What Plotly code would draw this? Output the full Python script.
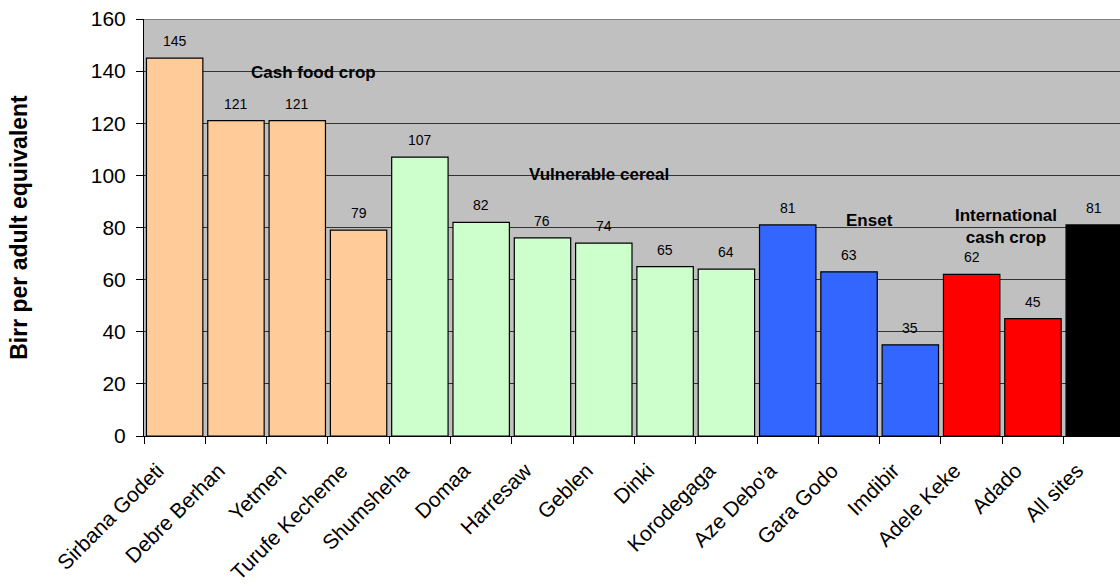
import plotly.graph_objects as go

# Sites, grouped by livelihood system, plus the all-site average
sites = ["Sirbana Godeti", "Debre Berhan", "Yetmen", "Turufe Kecheme",
         "Shumsheha", "Domaa", "Harresaw", "Geblen", "Dinki", "Korodegaga",
         "Aze Debo'a", "Gara Godo", "Imdibir",
         "Adele Keke", "Adado",
         "All sites"]
birr_per_adult = [145, 121, 121, 79,
                  107, 82, 76, 74, 65, 64,
                  81, 63, 35,
                  62, 45,
                  81]
group_of_site = ["cash_food"] * 4 + ["cereal"] * 6 + ["enset"] * 3 + ["intl_cash"] * 2 + ["all"]

group_colours = {
    "cash_food": "#FFCC99",
    "cereal": "#CCFFCC",
    "enset": "#3366FF",
    "intl_cash": "#FF0000",
    "all": "#000000",
}

# Group captions: (text, category position, value position)
group_labels = [
    ("Cash food crop", 2.26, 139.3),
    ("Vulnerable cereal", 6.92, 100.5),
    ("Enset", 11.33, 82.5),
    ("International<br>cash crop", 13.56, 80.2),
]

FONT = "Liberation Sans, Arial, sans-serif"

fig = go.Figure()
fig.add_trace(go.Bar(
    x=sites,
    y=birr_per_adult,
    marker=dict(color=[group_colours[g] for g in group_of_site],
                line=dict(color="#000000", width=1.2)),
    hoverinfo="skip",
))

# Value labels above each bar
for site, v in zip(sites, birr_per_adult):
    fig.add_annotation(x=site, y=v, text=str(v), showarrow=False,
                       yshift=17, font=dict(family=FONT, size=14, color="#000000"))

for text, xpos, ypos in group_labels:
    fig.add_annotation(x=xpos, y=ypos, text=f"<b>{text}</b>", showarrow=False,
                       font=dict(family=FONT, size=17, color="#000000"))

# Plot-area top border
fig.add_shape(type="line", xref="paper", yref="y", x0=0, x1=1, y0=160, y1=160,
              line=dict(color="#808080", width=2), layer="above")

fig.update_layout(
    width=1120, height=586,
    margin=dict(l=144, r=0, t=19, b=150),
    paper_bgcolor="#FFFFFF",
    plot_bgcolor="#C0C0C0",
    bargap=0.08,
    showlegend=False,
    font=dict(family=FONT, color="#000000"),
)
fig.update_xaxes(
    type="category",
    range=[-0.5, 15.42],
    tickangle=-45,
    tickfont=dict(size=21),
    tickson="boundaries",
    ticks="outside", ticklen=7, tickcolor="#000000",
    ticklabelshift=-17, ticklabelstandoff=13,
    showline=True, linecolor="#000000", linewidth=1,
    showgrid=False, zeroline=False,
)
fig.update_yaxes(
    range=[0, 160], dtick=20,
    tickfont=dict(size=21),
    ticks="outside", ticklen=7, tickcolor="#000000",
    ticklabelstandoff=6,
    showline=True, linecolor="#000000", linewidth=1,
    showgrid=True, gridcolor="#333333", gridwidth=1,
    zeroline=False,
    title=dict(text="<b>Birr per adult equivalent</b>", font=dict(size=23), standoff=56),
)

fig.write_html("out.html")
